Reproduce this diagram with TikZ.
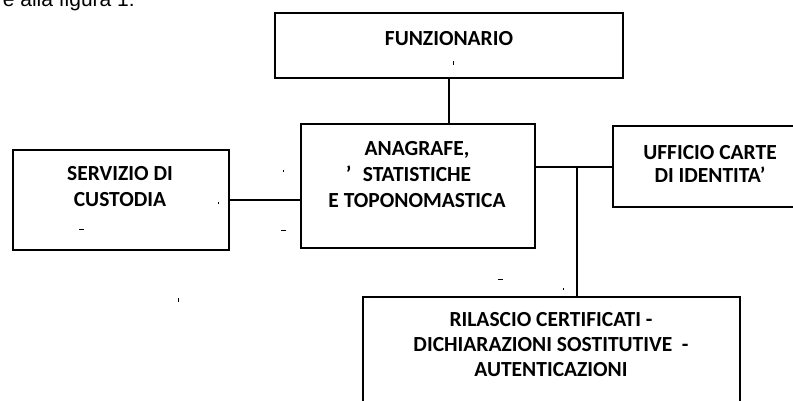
\documentclass[tikz,border=0pt]{standalone}
\usepackage{fontspec}
\setmainfont{Carlito}
\newfontfamily\bodyfont{Liberation Sans}
\begin{document}
\begin{tikzpicture}[x=1pt,y=-1pt,
  boxnode/.style={draw=black,line width=1.6pt,rectangle,inner sep=0pt},
  txt/.style={font=\fontsize{21.5}{25}\selectfont\bfseries,align=center,inner sep=0pt},
  conn/.style={draw=black,line width=1.6pt},
  speck/.style={draw=black,line width=1pt}]
\useasboundingbox (0,0) rectangle (793,400);
% cropped line of text at the top
\node[anchor=base east,inner sep=0pt,font=\bodyfont\fontsize{21}{24}\selectfont] (cap) at (135,6.5) {e alla figura 1:};
% boxes
\node[boxnode,minimum width=348pt,minimum height=65pt] (funz) at (449,45.5) {};
\node[boxnode,minimum width=234pt,minimum height=124pt] (anag) at (418,186) {};
\node[boxnode,minimum width=216pt,minimum height=100pt] (serv) at (121,200) {};
\node[boxnode,minimum width=200pt,minimum height=81pt] (uffi) at (713,166.5) {};
\node[boxnode,minimum width=377pt,minimum height=120pt] (rila) at (551.5,357) {};
% texts
\node[txt] (tfunz) at (449,38.5) {FUNZIONARIO};
\node[txt,font=\fontsize{21.5}{26}\selectfont\bfseries] (tanag) at (417,175) {ANAGRAFE,\\ \rlap{\kern-17pt\textquoteright}STATISTICHE\\E TOPONOMASTICA\hspace{18pt}};
\node[txt,font=\fontsize{21.5}{25.5}\selectfont\bfseries] (tserv) at (120,186.5) {SERVIZIO DI\\CUSTODIA};
\node[txt,font=\fontsize{21.5}{23}\selectfont\bfseries] (tuffi) at (710,163.5) {UFFICIO CARTE\\DI IDENTITA\textquoteright};
\node[txt,font=\fontsize{21.5}{25}\selectfont\bfseries] (trila) at (551,345) {RILASCIO CERTIFICATI -\\DICHIARAZIONI SOSTITUTIVE\ \ -\\AUTENTICAZIONI};
% connectors
\coordinate (j) at (577,167);
\draw[conn] (funz.south) -- (funz.south |- anag.north);
\draw[conn] (serv.east |- 0,200) -- (anag.west |- 0,200);
\draw[conn] (anag.east |- j) -- (uffi.west |- j);
\draw[conn] (j) -- (j |- rila.north);
% scanning specks
\draw[speck] (453,61) -- (453,65);
\draw[speck] (79,229) -- (84,229);
\draw[speck] (281,230) -- (286,230);
\draw[speck] (283,170) -- (283,172);
\draw[speck] (218,202) -- (218,204);
\draw[speck] (178,298) -- (178,302);
\draw[speck] (498,279) -- (503,279);
\draw[speck] (563,288) -- (563,290);
\end{tikzpicture}
\end{document}
